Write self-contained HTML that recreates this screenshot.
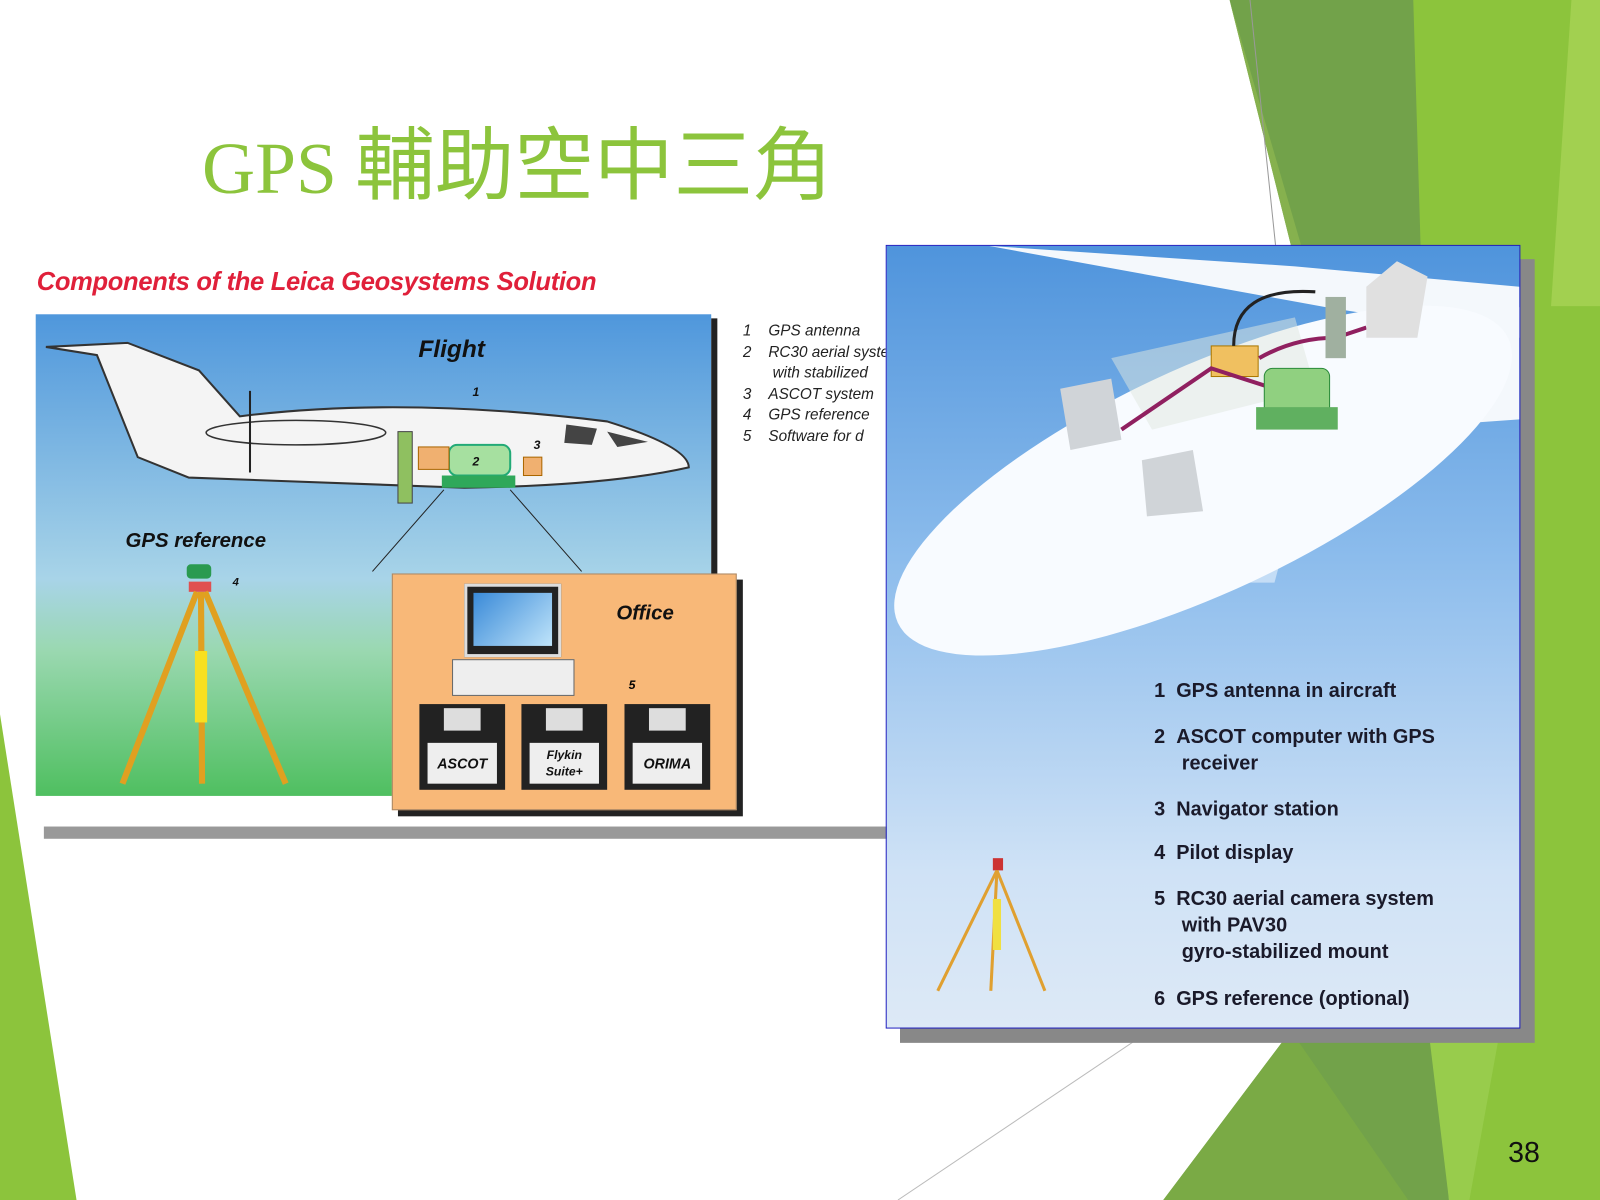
<!DOCTYPE html>
<html><head><meta charset="utf-8"><style>
html,body{margin:0;padding:0;background:#fff;overflow:hidden;width:1600px;height:1200px}
#s{position:absolute;left:0;top:0;width:1568px;height:1176px;transform:scale(1.020408);transform-origin:0 0;font-family:"Liberation Sans",sans-serif}
.a{position:absolute}
.lst{font-style:italic;font-size:15px;color:#222;line-height:20.5px}
.rl{font-weight:bold;font-size:19.5px;color:#1a1a2a;line-height:26px}
.fl{position:absolute;width:84px;height:84px;background:#222;top:690px}
.fl .w{position:absolute;left:8px;top:38px;width:68px;height:40px;background:#eee;font:italic bold 14px "Liberation Sans",sans-serif;text-align:center;line-height:40px;color:#111}
.fl .sh{position:absolute;left:24px;top:4px;width:36px;height:22px;background:#ddd}
</style></head><body><div id="s">
<svg class="a" style="left:0;top:0" width="1568" height="1176">
<polygon points="1205,0 1400,0 1420,1176 1140,1176 1265,1010 1265,240" fill="#72a24a"/>
<polygon points="1385,0 1545,0 1568,0 1568,1176 1420,1176" fill="#8cc43c"/>
<polygon points="1540,0 1568,0 1568,300 1520,300" fill="#a2d050"/>
<polygon points="1205,0 1265,240 1275,240" fill="#86b14e"/>
<polygon points="1265,1010 1380,1176 1140,1176" fill="#7aaa45"/>
<polygon points="1400,1010 1470,1010 1440,1176 1420,1176" fill="#98cc4c"/>
<polygon points="0,700 75,1176 0,1176" fill="#8cc43c"/>
<line x1="1225" y1="0" x2="1250" y2="240" stroke="#999" stroke-width="1"/>
<line x1="880" y1="1176" x2="1130" y2="1008" stroke="#bbb" stroke-width="1"/>
</svg>
<div class="a" style="left:198px;top:100px;font:72px 'Liberation Serif','Noto Serif CJK SC',serif;color:#8cc43c;white-space:nowrap">GPS <span style="font-family:'Noto Sans CJK TC',sans-serif;font-size:78px">輔助空中三角</span></div>

<!-- left image -->
<div class="a" style="left:36px;top:262px;font:italic bold 25px 'Liberation Sans',sans-serif;color:#e0203a;letter-spacing:-0.3px;white-space:nowrap">Components of the Leica Geosystems Solution</div>
<div class="a" style="left:35px;top:308px;width:662px;height:472px;background:linear-gradient(#4f97dc,#a8d4e8 55%,#9ad8b0 70%,#4fbf60)"></div>
<div class="a" style="left:697px;top:312px;width:6px;height:472px;background:#222"></div>
<div class="a" style="left:43px;top:810px;width:830px;height:12px;background:#999"></div>
<svg class="a" style="left:35px;top:308px" width="700" height="480">
<path d="M10,32 L90,28 L160,55 L200,100 Q360,80 560,105 Q640,130 640,150 Q560,168 420,170 L150,160 L100,140 L60,40 Z" fill="#f4f4f4" stroke="#333" stroke-width="2"/>
<ellipse cx="255" cy="116" rx="88" ry="12" fill="none" stroke="#333" stroke-width="1.5"/>
<line x1="210" y1="75" x2="210" y2="155" stroke="#222" stroke-width="2"/>
<path d="M520,108 L550,112 L545,128 L518,126Z" fill="#444"/>
<path d="M560,115 L600,125 L570,130Z" fill="#444"/>
<rect x="405" y="128" width="60" height="30" rx="8" fill="#a6e0a0" stroke="#2a7" stroke-width="2"/>
<rect x="398" y="158" width="72" height="12" fill="#2fa85a"/>
<rect x="478" y="140" width="18" height="18" fill="#f0b070" stroke="#a60"/>
<rect x="355" y="115" width="14" height="70" fill="#8fc060" stroke="#444"/>
<rect x="375" y="130" width="30" height="22" fill="#f0b070" stroke="#a60"/>
<line x1="400" y1="172" x2="330" y2="252" stroke="#222"/><line x1="465" y1="172" x2="535" y2="252" stroke="#222"/>
<text x="375" y="42" font-family="Liberation Sans" font-weight="bold" font-style="italic" font-size="24" fill="#111">Flight</text>
<text x="428" y="80" font-size="12" font-weight="bold" font-style="italic" fill="#111">1</text>
<text x="428" y="148" font-size="12" font-weight="bold" font-style="italic" fill="#111">2</text>
<text x="488" y="132" font-size="12" font-weight="bold" font-style="italic" fill="#111">3</text>
<text x="88" y="228" font-family="Liberation Sans" font-weight="bold" font-style="italic" font-size="20" fill="#111">GPS reference</text>
<text x="193" y="266" font-size="11" font-weight="bold" font-style="italic" fill="#111">4</text>
<rect x="148" y="245" width="24" height="14" rx="4" fill="#2a9a50"/>
<rect x="150" y="262" width="22" height="10" fill="#e05050"/>
<g stroke="#e0a020" stroke-width="6"><line x1="158" y1="272" x2="85" y2="460"/><line x1="162" y1="272" x2="163" y2="460"/><line x1="166" y1="272" x2="245" y2="460"/></g>
<rect x="156" y="330" width="12" height="70" fill="#f8e020"/>
</svg>
<div class="a" style="left:384px;top:562px;width:336px;height:230px;background:#f8b878;border:1px solid #a86;box-shadow:6px 6px 0 #222"></div>
<div class="a" style="left:455px;top:572px;width:95px;height:72px;background:#222;border:3px solid #ddd;box-sizing:border-box"><div style="margin:6px;height:52px;background:linear-gradient(135deg,#3a8ad8,#bfe4fa)"></div></div>
<div class="a" style="left:443px;top:646px;width:118px;height:34px;background:#eee;border:1px solid #666"></div>
<div class="a" style="left:604px;top:590px;font:italic bold 20px 'Liberation Sans',sans-serif;color:#111">Office</div>
<div class="a" style="left:616px;top:664px;font:italic bold 12px 'Liberation Sans',sans-serif">5</div>
<div class="fl" style="left:411px"><div class="sh"></div><div class="w">ASCOT</div></div>
<div class="fl" style="left:511px"><div class="sh"></div><div class="w" style="line-height:16px;padding-top:4px;height:36px;font-size:12px">Flykin<br>Suite+</div></div>
<div class="fl" style="left:612px"><div class="sh"></div><div class="w">ORIMA</div></div>
<div class="a lst" style="left:728px;top:315px;width:140px;overflow:hidden;white-space:nowrap">1&nbsp;&nbsp;&nbsp;&nbsp;GPS antenna<br>2&nbsp;&nbsp;&nbsp;&nbsp;RC30 aerial system<br>&nbsp;&nbsp;&nbsp;&nbsp;&nbsp;&nbsp;&nbsp;with stabilized<br>3&nbsp;&nbsp;&nbsp;&nbsp;ASCOT system<br>4&nbsp;&nbsp;&nbsp;&nbsp;GPS reference<br>5&nbsp;&nbsp;&nbsp;&nbsp;Software for d</div>

<!-- right image -->
<div class="a" style="left:882px;top:254px;width:622px;height:768px;background:#888"></div>
<div class="a" style="left:868px;top:240px;width:620px;height:766px;border:1px solid #2020c0;background:linear-gradient(#4f94dc,#8cbcec 40%,#cfe2f6 80%,#dde9f6);overflow:hidden">
<svg width="620" height="766">
<polygon points="340,330 380,330 420,180 310,180" fill="#e8f2fc" opacity="0.6"/>
<path d="M100,0 L400,20 L620,40 L620,90 L430,60 Z" fill="#f4f8fc"/>
<path d="M480,130 L620,60 L620,170 L480,180Z" fill="#f4f8fc"/>
<ellipse cx="310" cy="230" rx="330" ry="110" transform="rotate(-25 310 230)" fill="#f8fbff"/>
<path d="M220,110 L400,70 L420,140 L260,180Z" fill="#e0e8e0" opacity="0.5"/>
<rect x="318" y="98" width="46" height="30" fill="#f0c060" stroke="#a70"/>
<path d="M365,110 Q400,90 440,90 L470,80 M230,180 L318,120 L380,140" stroke="#902060" stroke-width="4" fill="none"/>
<path d="M340,98 Q340,40 420,45" stroke="#222" stroke-width="3" fill="none"/>
<rect x="370" y="120" width="64" height="52" rx="8" fill="#90d080" stroke="#2a8a3a"/>
<rect x="362" y="158" width="80" height="22" fill="#60b060"/>
<rect x="430" y="50" width="20" height="60" fill="#a0b0a0"/>
<path d="M470,40 L500,15 L530,30 L520,90 L470,90Z" fill="#e0e0e0"/>
<path d="M170,140 L220,130 L230,190 L180,200Z" fill="#d0d4d8"/>
<path d="M250,210 L300,200 L310,260 L255,265Z" fill="#d0d4d8"/>
<rect x="104" y="600" width="10" height="12" fill="#c33"/>
<g stroke="#e0a030" stroke-width="3"><line x1="108" y1="612" x2="50" y2="730"/><line x1="108" y1="612" x2="102" y2="730"/><line x1="108" y1="612" x2="155" y2="730"/></g>
<rect x="104" y="640" width="8" height="50" fill="#f0e040"/>
</svg>
<div class="a rl" style="left:262px;top:423px">1&nbsp;&nbsp;GPS antenna in aircraft</div>
<div class="a rl" style="left:262px;top:468px">2&nbsp;&nbsp;ASCOT computer with GPS<br>&nbsp;&nbsp;&nbsp;&nbsp;&nbsp;receiver</div>
<div class="a rl" style="left:262px;top:539px">3&nbsp;&nbsp;Navigator station</div>
<div class="a rl" style="left:262px;top:582px">4&nbsp;&nbsp;Pilot display</div>
<div class="a rl" style="left:262px;top:627px">5&nbsp;&nbsp;RC30 aerial camera system<br>&nbsp;&nbsp;&nbsp;&nbsp;&nbsp;with PAV30<br>&nbsp;&nbsp;&nbsp;&nbsp;&nbsp;gyro-stabilized mount</div>
<div class="a rl" style="left:262px;top:725px">6&nbsp;&nbsp;GPS reference (optional)</div>
</div>
<div class="a" style="left:1478px;top:1114px;font:28px 'Liberation Sans',sans-serif;color:#111">38</div>
</div></body></html>
